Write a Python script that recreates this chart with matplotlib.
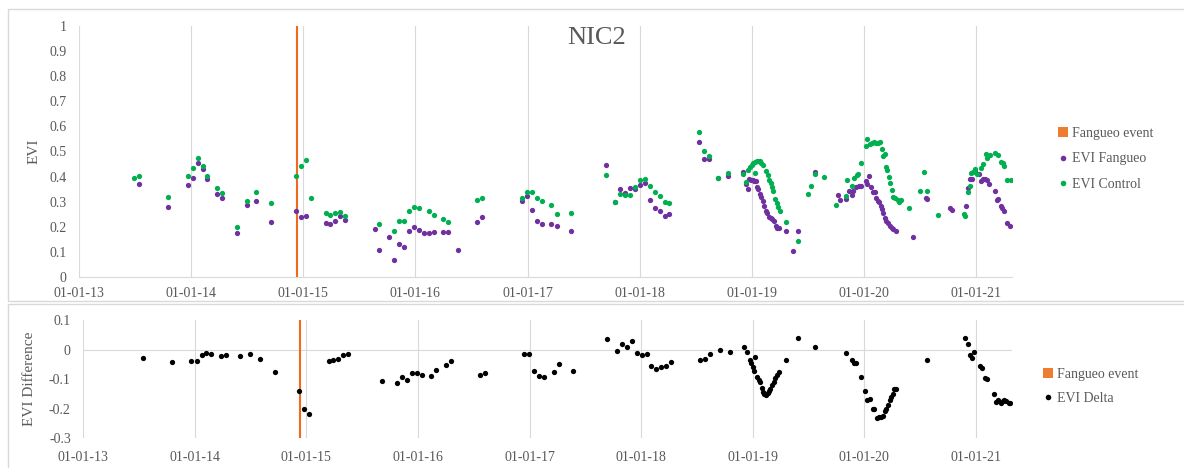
import matplotlib.pyplot as plt
import matplotlib.dates as mdates
from matplotlib.lines import Line2D
from matplotlib.patches import Patch, Rectangle
import pandas as pd

# ---- data ----
fangueo_event = '2014-12-12'

fangueo_dates = [
    '2013-07-14', '2013-10-19', '2013-12-21', '2014-01-07', '2014-01-23', '2014-02-08', '2014-02-23',
    '2014-03-28', '2014-04-13', '2014-05-30', '2014-07-01', '2014-08-02', '2014-09-19', '2014-12-08',
    '2014-12-25', '2015-01-10', '2015-03-15', '2015-03-30', '2015-04-16', '2015-05-01', '2015-05-17',
    '2015-08-22', '2015-09-06', '2015-10-09', '2015-10-25', '2015-11-09', '2015-11-25', '2015-12-12',
    '2015-12-28', '2016-01-13', '2016-01-29', '2016-02-14', '2016-03-01', '2016-04-02', '2016-04-18',
    '2016-05-20', '2016-07-22', '2016-08-07', '2016-12-14', '2016-12-30', '2017-01-15', '2017-01-31',
    '2017-02-16', '2017-03-20', '2017-04-06', '2017-05-23', '2017-09-12', '2017-10-14', '2017-10-30',
    '2017-11-15', '2017-12-01', '2017-12-17', '2018-01-03', '2018-01-18', '2018-02-03', '2018-02-19',
    '2018-03-08', '2018-03-24', '2018-04-08', '2018-07-13', '2018-07-29', '2018-08-14', '2018-09-15',
    '2018-10-17', '2018-12-04', '2018-12-14', '2018-12-19', '2018-12-24', '2018-12-30', '2019-01-04',
    '2019-01-09', '2019-01-14', '2019-01-17', '2019-01-22', '2019-01-27', '2019-02-02', '2019-02-07',
    '2019-02-10', '2019-02-16', '2019-02-21', '2019-02-26', '2019-03-04', '2019-03-09', '2019-03-14',
    '2019-03-20', '2019-03-25', '2019-03-30', '2019-04-23', '2019-05-17', '2019-06-02', '2019-07-27',
    '2019-10-09', '2019-10-15', '2019-11-04', '2019-11-13', '2019-11-24', '2019-11-28', '2019-12-08',
    '2019-12-18', '2019-12-23', '2020-01-07', '2020-01-12', '2020-01-17', '2020-01-25', '2020-01-30',
    '2020-02-07', '2020-02-10', '2020-02-16', '2020-02-20', '2020-02-25', '2020-03-01', '2020-03-04',
    '2020-03-11', '2020-03-15', '2020-03-20', '2020-03-26', '2020-04-01', '2020-04-06', '2020-04-15',
    '2020-06-10', '2020-07-21', '2020-07-25', '2020-10-08', '2020-10-13', '2020-11-28', '2020-12-07',
    '2020-12-13', '2020-12-18', '2020-12-28', '2021-01-10', '2021-01-18', '2021-01-25', '2021-01-31',
    '2021-02-06', '2021-02-11', '2021-03-04', '2021-03-09', '2021-03-14', '2021-03-23', '2021-03-28',
    '2021-04-03', '2021-04-11', '2021-04-22']
fangueo_evi = [
    0.372, 0.278, 0.365, 0.396, 0.455, 0.430, 0.390,
    0.331, 0.315, 0.174, 0.285, 0.303, 0.218, 0.264,
    0.239, 0.243, 0.216, 0.211, 0.223, 0.242, 0.228,
    0.193, 0.106, 0.158, 0.069, 0.131, 0.121, 0.182,
    0.199, 0.189, 0.175, 0.174, 0.178, 0.179, 0.179,
    0.108, 0.218, 0.238, 0.301, 0.324, 0.267, 0.224,
    0.210, 0.211, 0.202, 0.183, 0.447, 0.297, 0.349,
    0.333, 0.353, 0.349, 0.365, 0.376, 0.305, 0.274,
    0.264, 0.244, 0.251, 0.538, 0.469, 0.469, 0.396,
    0.404, 0.418, 0.371, 0.352, 0.389, 0.386, 0.386,
    0.384, 0.381, 0.360, 0.352, 0.329, 0.320, 0.303,
    0.283, 0.263, 0.254, 0.240, 0.234, 0.230, 0.222,
    0.204, 0.197, 0.197, 0.183, 0.102, 0.183, 0.417,
    0.325, 0.305, 0.310, 0.344, 0.327, 0.344, 0.360,
    0.363, 0.363, 0.381, 0.370, 0.402, 0.357, 0.340,
    0.337, 0.313, 0.304, 0.299, 0.283, 0.270, 0.254,
    0.235, 0.225, 0.214, 0.205, 0.197, 0.190, 0.184,
    0.160, 0.313, 0.310, 0.275, 0.267, 0.284, 0.355,
    0.390, 0.392, 0.424, 0.410, 0.384, 0.390, 0.392,
    0.385, 0.371, 0.341, 0.307, 0.310, 0.284, 0.274,
    0.262, 0.216, 0.204]

control_dates = [
    '2013-06-29', '2013-07-14', '2013-10-19', '2013-12-21', '2014-01-07', '2014-01-23', '2014-02-08',
    '2014-02-23', '2014-03-28', '2014-04-13', '2014-05-30', '2014-07-01', '2014-08-02', '2014-09-19',
    '2014-12-08', '2014-12-25', '2015-01-10', '2015-01-26', '2015-03-15', '2015-03-30', '2015-04-16',
    '2015-05-01', '2015-05-17', '2015-09-06', '2015-10-25', '2015-11-09', '2015-11-25', '2015-12-12',
    '2015-12-28', '2016-01-13', '2016-02-14', '2016-03-01', '2016-04-02', '2016-04-18', '2016-07-22',
    '2016-08-07', '2016-12-14', '2016-12-30', '2017-01-15', '2017-01-31', '2017-02-16', '2017-03-20',
    '2017-04-06', '2017-05-23', '2017-09-12', '2017-10-14', '2017-10-30', '2017-11-15', '2017-12-01',
    '2017-12-17', '2018-01-03', '2018-01-18', '2018-02-03', '2018-02-19', '2018-03-08', '2018-03-24',
    '2018-04-08', '2018-07-13', '2018-07-29', '2018-08-14', '2018-09-15', '2018-10-17', '2018-12-04',
    '2018-12-14', '2018-12-21', '2018-12-27', '2019-01-01', '2019-01-06', '2019-01-11', '2019-01-12',
    '2019-01-17', '2019-01-22', '2019-01-28', '2019-02-02', '2019-02-07', '2019-02-16', '2019-02-22',
    '2019-02-26', '2019-03-04', '2019-03-09', '2019-03-13', '2019-03-18', '2019-03-24', '2019-03-29',
    '2019-04-02', '2019-04-23', '2019-06-02', '2019-07-03', '2019-07-12', '2019-07-27', '2019-08-26',
    '2019-10-04', '2019-11-04', '2019-11-08', '2019-11-23', '2019-11-29', '2019-12-09', '2019-12-13',
    '2019-12-23', '2020-01-07', '2020-01-12', '2020-01-22', '2020-01-28', '2020-02-05', '2020-02-10',
    '2020-02-17', '2020-02-23', '2020-02-28', '2020-03-04', '2020-03-09', '2020-03-13', '2020-03-17',
    '2020-03-23', '2020-03-27', '2020-04-01', '2020-04-06', '2020-04-11', '2020-04-21', '2020-04-26',
    '2020-05-01', '2020-05-27', '2020-07-01', '2020-07-16', '2020-07-26', '2020-08-31', '2020-11-23',
    '2020-11-27', '2020-12-07', '2020-12-12', '2020-12-17', '2020-12-23', '2020-12-29', '2021-01-03',
    '2021-01-18', '2021-01-23', '2021-02-02', '2021-02-07', '2021-02-14', '2021-03-04', '2021-03-12',
    '2021-03-24', '2021-03-29', '2021-04-03', '2021-04-11', '2021-04-24']
control_evi = [
    0.394, 0.402, 0.320, 0.402, 0.434, 0.473, 0.442,
    0.404, 0.353, 0.333, 0.198, 0.301, 0.337, 0.295,
    0.402, 0.442, 0.465, 0.315, 0.254, 0.247, 0.254,
    0.259, 0.244, 0.211, 0.182, 0.224, 0.224, 0.262,
    0.279, 0.275, 0.262, 0.248, 0.232, 0.220, 0.305,
    0.316, 0.316, 0.339, 0.339, 0.316, 0.304, 0.287,
    0.250, 0.254, 0.408, 0.299, 0.331, 0.325, 0.325,
    0.359, 0.385, 0.392, 0.363, 0.339, 0.323, 0.300,
    0.294, 0.576, 0.502, 0.482, 0.396, 0.413, 0.409,
    0.380, 0.426, 0.437, 0.446, 0.453, 0.458, 0.413,
    0.462, 0.463, 0.461, 0.455, 0.447, 0.421, 0.406,
    0.386, 0.373, 0.360, 0.341, 0.311, 0.294, 0.278,
    0.262, 0.219, 0.145, 0.331, 0.363, 0.410, 0.398,
    0.287, 0.323, 0.386, 0.363, 0.393, 0.408, 0.410,
    0.454, 0.523, 0.549, 0.530, 0.535, 0.537, 0.533,
    0.535, 0.537, 0.510, 0.483, 0.490, 0.440, 0.428,
    0.397, 0.376, 0.348, 0.318, 0.313, 0.307, 0.298,
    0.307, 0.276, 0.343, 0.418, 0.343, 0.247, 0.250,
    0.243, 0.337, 0.363, 0.413, 0.420, 0.431, 0.410,
    0.433, 0.451, 0.489, 0.476, 0.485, 0.493, 0.486,
    0.457, 0.455, 0.441, 0.385, 0.385]

delta_dates = [
    '2013-07-14', '2013-10-19', '2013-12-21', '2014-01-07', '2014-01-23', '2014-02-08', '2014-02-23',
    '2014-03-28', '2014-04-13', '2014-05-30', '2014-07-01', '2014-08-02', '2014-09-19', '2014-12-08',
    '2014-12-25', '2015-01-10', '2015-03-15', '2015-03-30', '2015-04-16', '2015-05-01', '2015-05-17',
    '2015-09-06', '2015-10-25', '2015-11-09', '2015-11-25', '2015-12-12', '2015-12-28', '2016-01-13',
    '2016-02-14', '2016-03-01', '2016-04-02', '2016-04-18', '2016-07-22', '2016-08-07', '2016-12-14',
    '2016-12-30', '2017-01-15', '2017-01-31', '2017-02-16', '2017-03-20', '2017-04-06', '2017-05-23',
    '2017-09-12', '2017-10-14', '2017-10-30', '2017-11-15', '2017-12-01', '2017-12-17', '2018-01-03',
    '2018-01-18', '2018-02-03', '2018-02-19', '2018-03-08', '2018-03-24', '2018-04-08', '2018-07-13',
    '2018-07-29', '2018-08-14', '2018-09-15', '2018-10-17', '2018-12-04', '2018-12-14', '2018-12-22',
    '2018-12-27', '2019-01-02', '2019-01-06', '2019-01-09', '2019-01-15', '2019-01-20', '2019-01-26',
    '2019-01-30', '2019-02-03', '2019-02-08', '2019-02-13', '2019-02-19', '2019-02-23', '2019-02-27',
    '2019-03-05', '2019-03-10', '2019-03-16', '2019-03-21', '2019-03-26', '2019-04-19', '2019-05-30',
    '2019-07-24', '2019-11-02', '2019-11-21', '2019-11-27', '2019-12-06', '2019-12-20', '2020-01-04',
    '2020-01-11', '2020-01-18', '2020-01-29', '2020-02-02', '2020-02-11', '2020-02-18', '2020-02-25',
    '2020-03-02', '2020-03-08', '2020-03-13', '2020-03-18', '2020-03-24', '2020-03-27', '2020-04-02',
    '2020-04-06', '2020-04-15', '2020-07-23', '2020-11-25', '2020-12-05', '2020-12-13', '2020-12-19',
    '2020-12-25', '2021-01-13', '2021-01-20', '2021-01-30', '2021-02-06', '2021-02-28', '2021-03-06',
    '2021-03-14', '2021-03-22', '2021-03-28', '2021-04-03', '2021-04-10', '2021-04-17', '2021-04-23']
delta_evi = [
    -0.030, -0.042, -0.038, -0.038, -0.019, -0.013, -0.015,
    -0.022, -0.020, -0.022, -0.016, -0.033, -0.077, -0.139,
    -0.202, -0.219, -0.039, -0.036, -0.033, -0.017, -0.016,
    -0.105, -0.113, -0.093, -0.103, -0.080, -0.080, -0.086,
    -0.088, -0.070, -0.053, -0.040, -0.087, -0.080, -0.016,
    -0.016, -0.071, -0.089, -0.094, -0.076, -0.048, -0.071,
    0.037, -0.004, 0.020, 0.008, 0.028, -0.010, -0.019,
    -0.016, -0.057, -0.064, -0.059, -0.056, -0.041, -0.036,
    -0.033, -0.015, 0.000, -0.009, 0.008, -0.009, -0.035,
    -0.046, -0.060, -0.071, -0.026, -0.093, -0.102, -0.110,
    -0.130, -0.142, -0.150, -0.154, -0.146, -0.140, -0.132,
    -0.120, -0.109, -0.097, -0.086, -0.075, -0.034, 0.039,
    0.009, -0.013, -0.035, -0.046, -0.046, -0.093, -0.139,
    -0.170, -0.168, -0.200, -0.202, -0.233, -0.229, -0.227,
    -0.225, -0.208, -0.200, -0.186, -0.172, -0.162, -0.151,
    -0.134, -0.132, -0.035, 0.038, 0.018, -0.018, -0.028,
    -0.009, -0.055, -0.063, -0.096, -0.100, -0.150, -0.178,
    -0.170, -0.182, -0.175, -0.170, -0.175, -0.180, -0.180]

# ---- style ----
GRAY = '#595959'
GRID = '#D9D9D9'
ORANGE = '#ED7D31'
LINE_ORANGE = '#F06A1E'
PURPLE = '#7030A0'
GREEN = '#00B050'
plt.rcParams['font.family'] = ['Liberation Serif', 'DejaVu Serif']
plt.rcParams['font.size'] = 10

W, H = 1184, 468
fig = plt.figure(figsize=(W / 100, H / 100), dpi=100)

# chart frames
fig.patches.append(Rectangle((8 / W, 1 - 301 / H), 1.2, (301 - 9) / H, transform=fig.transFigure,
                             fill=False, edgecolor=GRID, lw=1))
fig.patches.append(Rectangle((8 / W, -0.2), 1.2, 0.2 + (H - 304) / H, transform=fig.transFigure,
                             fill=False, edgecolor=GRID, lw=1))

ax1 = fig.add_axes([79 / W, 1 - 277 / H, (1012 - 79) / W, (277 - 26) / H])
ax2 = fig.add_axes([83.3 / W, 1 - 438.3 / H, (1012 - 83.3) / W, (438.3 - 320) / H])

xmin, xmax = pd.Timestamp('2013-01-01'), pd.Timestamp('2021-04-28')
ev = pd.Timestamp(fangueo_event)

for ax in (ax1, ax2):
    ax.set_xlim(xmin, xmax)
    ax.xaxis.set_major_locator(mdates.YearLocator())
    ax.xaxis.set_major_formatter(mdates.DateFormatter('%m-%d-%y'))
    ax.grid(axis='x', color=GRID, lw=0.8)
    ax.set_axisbelow(True)
    for s in ax.spines.values():
        s.set_visible(False)
    ax.tick_params(length=0, colors=GRAY, labelsize=10)

# top panel
ax1.set_ylim(0, 1)
ax1.set_yticks([i / 10 for i in range(11)])
ax1.set_yticklabels(['0'] + ['%.1f' % (i / 10) for i in range(1, 10)] + ['1'])
ax1.spines['bottom'].set_visible(True)
ax1.spines['bottom'].set_color(GRID)
ax1.tick_params(axis='x', pad=7)
ax1.tick_params(axis='y', pad=9)
ax1.axvline(ev, color=LINE_ORANGE, lw=1.5)
ax1.plot(pd.to_datetime(fangueo_dates), fangueo_evi, 'o', color=PURPLE, ms=3.8, mec='none')
ax1.plot(pd.to_datetime(control_dates), control_evi, 'o', color=GREEN, ms=3.8, mec='none')
ax1.set_ylabel('EVI', color=GRAY, fontsize=11, labelpad=6)
fig.text(597 / W, 1 - 38 / H, 'NIC2', color=GRAY, fontsize=19, ha='center', va='center')

h1 = [Patch(facecolor=ORANGE, edgecolor='none'),
      Line2D([], [], ls='none', marker='o', color=PURPLE, ms=4, mec='none'),
      Line2D([], [], ls='none', marker='o', color=GREEN, ms=4, mec='none')]
leg1 = ax1.legend(h1, ['Fangueo event', 'EVI Fangueo', 'EVI Control'], loc='upper left',
                  bbox_to_anchor=(1058 / W, 1 - 127 / H), bbox_transform=fig.transFigure,
                  frameon=False, handlelength=0.7, handleheight=0.7, handletextpad=0.3,
                  labelspacing=0.9, borderpad=0, borderaxespad=0, fontsize=10)
for t in leg1.get_texts():
    t.set_color(GRAY)

# bottom panel
ax2.set_ylim(-0.3, 0.1)
ax2.set_yticks([0.1, 0, -0.1, -0.2, -0.3])
ax2.set_yticklabels(['0.1', '0', '-0.1', '-0.2', '-0.3'])
ax2.axhline(0, color=GRID, lw=0.8, zorder=0)
ax2.tick_params(axis='x', pad=9)
ax2.tick_params(axis='y', pad=9)
ax2.axvline(ev, color=LINE_ORANGE, lw=1.5)
ax2.plot(pd.to_datetime(delta_dates), delta_evi, 'o', color='black', ms=3.8, mec='none')
ax2.set_ylabel('EVI Difference', color=GRAY, fontsize=11, labelpad=9)

h2 = [Patch(facecolor=ORANGE, edgecolor='none'),
      Line2D([], [], ls='none', marker='o', color='black', ms=4, mec='none')]
leg2 = ax2.legend(h2, ['Fangueo event', 'EVI Delta'], loc='upper left',
                  bbox_to_anchor=(1043 / W, 1 - 368 / H), bbox_transform=fig.transFigure,
                  frameon=False, handlelength=0.7, handleheight=0.7, handletextpad=0.3,
                  labelspacing=0.8, borderpad=0, borderaxespad=0, fontsize=10)
for t in leg2.get_texts():
    t.set_color(GRAY)

fig.savefig('out.png', dpi=100)
